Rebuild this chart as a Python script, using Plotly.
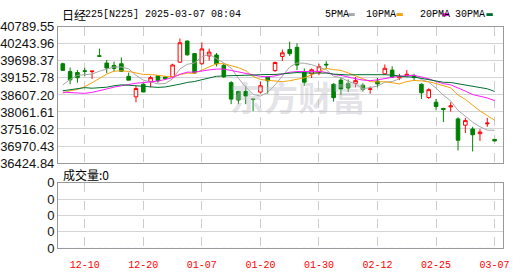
import plotly.graph_objects as go
import pandas as pd

# ---------------- data ----------------
dates = ["12-05", "12-06", "12-09", "12-10", "12-11", "12-12", "12-13", "12-16", "12-17", "12-18",
         "12-19", "12-20", "12-23", "12-24", "12-25", "12-26", "12-27", "12-30", "01-06", "01-07",
         "01-08", "01-09", "01-10", "01-14", "01-15", "01-16", "01-17", "01-20", "01-21", "01-22",
         "01-23", "01-24", "01-27", "01-28", "01-29", "01-30", "01-31", "02-03", "02-04", "02-05",
         "02-06", "02-07", "02-10", "02-12", "02-13", "02-14", "02-17", "02-18", "02-19", "02-20",
         "02-21", "02-25", "02-26", "02-27", "02-28", "03-03", "03-04", "03-05", "03-06", "03-07"]

open_ = [39607, 39356, 39325, 39380, 39356, 39860, 39629, 39556, 39607, 39204,
         38547, 38950, 39032, 39222, 39183, 39183, 39659, 40335, 39932, 39607,
         39859, 39889, 39556, 39001, 38719, 38719, 38480, 38698, 39183, 39386,
         39841, 40062, 40132, 39356, 39283, 39325, 39590, 38950, 39083, 38971,
         38980, 38919, 38785, 39051, 39283, 39404, 39153, 39222, 39222, 38950,
         38526, 38374, 38175, 38225, 37840, 37637, 37516, 37365, 37680, 37183]
high = [39640, 39486, 39404, 39477, 39372, 40092, 39729, 39677, 39810, 39325,
        38901, 38980, 39222, 39240, 39200, 39607, 40417, 40350, 39950, 40295,
        40092, 39950, 39600, 39050, 38740, 38901, 38490, 39032, 39200, 39680,
        40062, 40314, 40265, 39456, 39456, 39607, 39689, 38980, 39183, 39101,
        39183, 38980, 38880, 39150, 39586, 39525, 39283, 39404, 39283, 38980,
        38819, 38477, 38192, 38374, 37890, 37870, 37587, 37516, 37870, 37190]
low = [39380, 38950, 38998, 39204, 39122, 39840, 39304, 39356, 39356, 39081,
       38374, 38700, 38850, 39000, 39100, 39150, 39640, 39864, 39288, 39580,
       39707, 39520, 39150, 38313, 38313, 38313, 38092, 38650, 38647, 39350,
       39700, 39859, 39404, 38901, 39150, 39240, 39456, 38395, 38598, 38698,
       38850, 38720, 38647, 38850, 39250, 39150, 39083, 39183, 39050, 38477,
       38480, 38115, 37737, 38071, 36828, 37386, 36798, 37133, 37587, 37120]
close = [39395, 39091, 39160, 39367, 39372, 39849, 39470, 39457, 39364, 39081,
         38813, 38701, 39161, 39060, 39130, 39568, 40281, 39894, 39307, 40083,
         39981, 39605, 39190, 38474, 38444, 38572, 38460, 38902, 39060, 39646,
         39958, 39931, 39565, 39016, 39414, 39513, 39572, 38520, 38798, 38831,
         39066, 38787, 38801, 38963, 39461, 39180, 39200, 39270, 39164, 38678,
         38776, 38237, 38142, 38256, 37155, 37785, 37331, 37418, 37704, 37132]
volume = [0] * 60

# closes before the visible window (needed for the moving averages at the left edge)
prior_close = [38143, 37913, 38605, 39903, 39277, 39081, 38053, 38474, 39480, 39381,
               39500, 39533, 39376, 38721, 38535, 38642, 38220, 38414, 38352, 38026,
               38283, 38780, 38442, 38134, 38349, 38208, 38513, 39248, 39276]

price_ticks = ["40789.55", "40243.96", "39698.37", "39152.78", "38607.20",
               "38061.61", "37516.02", "36970.43", "36424.84"]
date_ticks = ["12-10", "12-20", "01-07", "01-20", "01-30", "02-12", "02-25", "03-07"]

ma_periods = [5, 10, 20, 30]
ma_names = ["5PMA", "10PMA", "20PMA", "30PMA"]
ma_colors = ["#a6a6a6", "#f2a20c", "#ff19ff", "#006f31"]

# ---------------- figure ----------------
x = list(range(len(dates)))
series = pd.Series(prior_close + close)
n_prior = len(prior_close)

fig = go.Figure()
fig.add_trace(go.Candlestick(
    x=x, open=open_, high=high, low=low, close=close,
    xaxis="x", yaxis="y", whiskerwidth=0, showlegend=False,
    increasing=dict(line=dict(color="#ff0000", width=1), fillcolor="#ffffff"),
    decreasing=dict(line=dict(color="#008000", width=1), fillcolor="#008000"),
))
for p, name, col in zip(ma_periods, ma_names, ma_colors):
    vals = series.rolling(p).mean().iloc[n_prior:].tolist()
    fig.add_trace(go.Scatter(x=x, y=vals, mode="lines", name=name,
                             line=dict(color=col, width=1), xaxis="x", yaxis="y",
                             showlegend=False))
fig.add_trace(go.Bar(x=x, y=volume, xaxis="x2", yaxis="y2", marker_color="#888",
                     showlegend=False))

W, H = 530, 276
L, R = 55, 509
TOP1, BOT1 = 21, 165
TOP2, BOT2 = 186, 255
xdom = [L / W, R / W]
xrange_ = [-0.66, 60.2]
tickpos = [dates.index(t) for t in date_ticks]

common_x = dict(domain=xdom, range=xrange_, tickvals=tickpos, ticktext=date_ticks,
                showgrid=True, gridcolor="#cccccc", griddash="dash", gridwidth=1,
                showline=True, linecolor="#999999", linewidth=1, mirror=True,
                zeroline=False, ticks="", fixedrange=True)
fig.update_layout(
    width=W, height=H, margin=dict(l=0, r=0, t=0, b=0),
    paper_bgcolor="white", plot_bgcolor="white",
    xaxis=dict(**common_x, anchor="y", showticklabels=False,
               rangeslider=dict(visible=False)),
    xaxis2=dict(**common_x, anchor="y2", showticklabels=True, ticklabelstandoff=7,
                tickfont=dict(family="Liberation Mono", size=10, color="#ff0000")),
    yaxis=dict(domain=[1 - BOT1 / H, 1 - TOP1 / H],
               range=[float(price_ticks[-1]), float(price_ticks[0])],
               tickvals=[float(t) for t in price_ticks], ticktext=price_ticks,
               showgrid=True, gridcolor="#d4d4d4", gridwidth=1,
               showline=True, linecolor="#999999", linewidth=1, mirror=True,
               zeroline=False, ticks="", anchor="x",
               tickfont=dict(family="Liberation Sans", size=13, color="#111111")),
    yaxis2=dict(domain=[1 - BOT2 / H, 1 - TOP2 / H], range=[0, 4],
                tickvals=[0, 1, 2, 3, 4], ticktext=["0"] * 5,
                showgrid=True, gridcolor="#d4d4d4", gridwidth=1,
                showline=True, linecolor="#999999", linewidth=1, mirror=True,
                zeroline=False, ticks="", anchor="x2",
                tickfont=dict(family="Liberation Sans", size=13, color="#111111")),
    bargap=0.3,
    showlegend=False,
)

ann = []
# watermark
ann.append(dict(x=300 / W, y=1 - 95 / H, xref="paper", yref="paper", text="<b>东方财富</b>",
                showarrow=False, font=dict(family="Noto Sans CJK SC", size=34,
                                           color="rgba(190,190,200,0.42)")))
# title
ann.append(dict(x=57 / W, y=1 - 8 / H, xref="paper", yref="paper", text="日经",
                showarrow=False, xanchor="left", yanchor="middle",
                font=dict(family="Noto Sans CJK SC", size=12, color="#000")))
ann.append(dict(x=81 / W, y=1 - 8 / H, xref="paper", yref="paper",
                text="225[N225] 2025-03-07 08:04",
                showarrow=False, xanchor="left", yanchor="middle",
                font=dict(family="Liberation Mono", size=10, color="#000")))
# volume label
ann.append(dict(x=58 / W, y=1 - 177 / H, xref="paper", yref="paper", text="成交量:0",
                showarrow=False, xanchor="left", yanchor="middle",
                font=dict(family="Noto Sans CJK SC", size=12, color="#000")))
# legend
leg_text_x = [325, 366.7, 421.7, 458]
leg_rect_x = [351, 400, 446.7, 491.7]
shapes = []
for name, col, tx, rx in zip(ma_names, ma_colors, leg_text_x, leg_rect_x):
    ann.append(dict(x=tx / W, y=1 - 8 / H, xref="paper", yref="paper", text=name,
                    showarrow=False, xanchor="left", yanchor="middle",
                    font=dict(family="Liberation Mono", size=10, color="#000")))
    shapes.append(dict(type="rect", xref="paper", yref="paper",
                       x0=rx / W, x1=(rx + 6.5) / W, y0=1 - 9.5 / H, y1=1 - 6.5 / H,
                       fillcolor=col, line=dict(width=0)))
fig.update_layout(annotations=ann, shapes=shapes)

fig.write_html("out.html")
